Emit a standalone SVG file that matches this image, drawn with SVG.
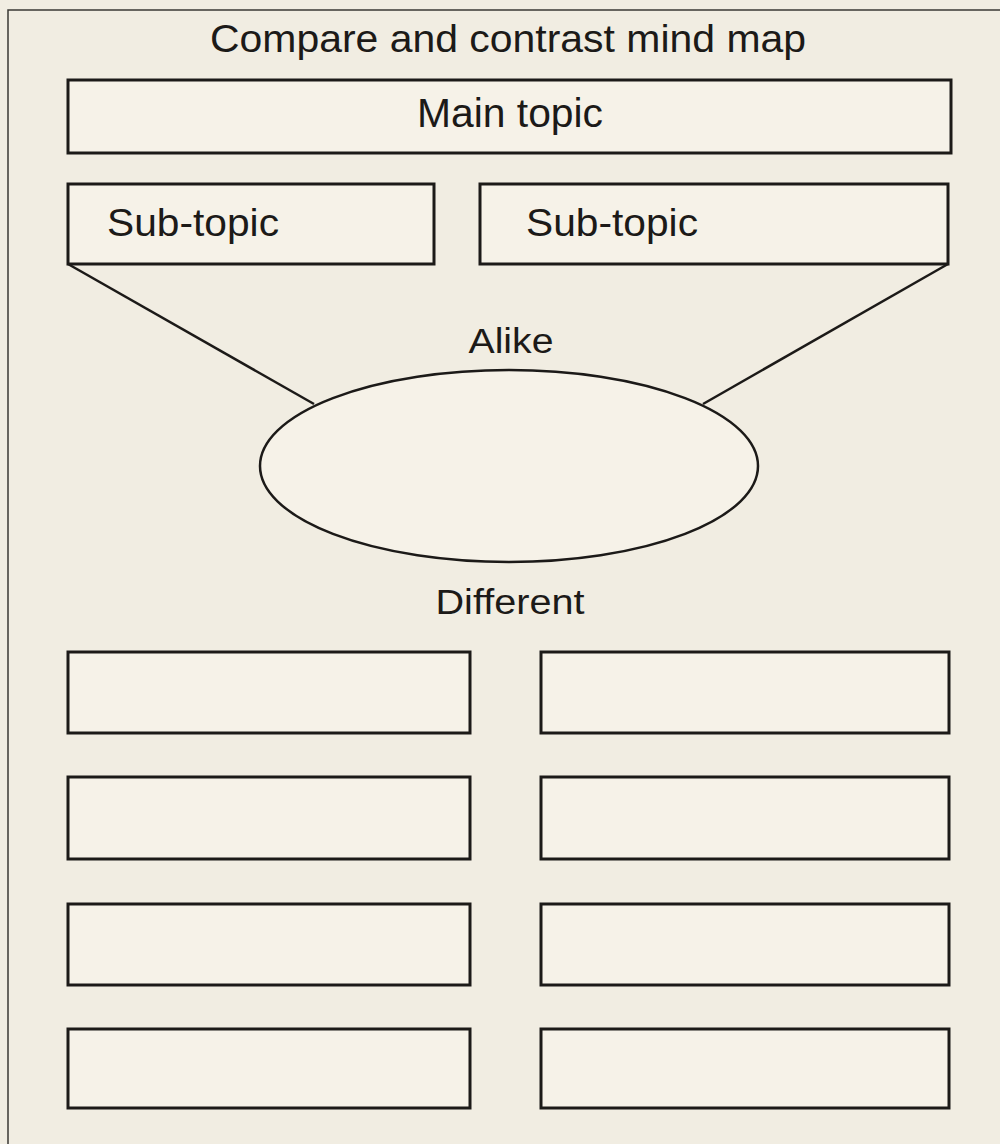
<svg xmlns="http://www.w3.org/2000/svg" width="1000" height="1144" viewBox="0 0 1000 1144">
<style>
.box{fill:#f6f2e8;stroke:#1c1a18;stroke-width:3}
.line{stroke:#1c1a18;stroke-width:2.5;fill:none}
.frame{stroke:#3a3835;stroke-width:1.5;fill:none}
.t{font-family:"Liberation Sans","Arial",sans-serif;fill:#1c1a18;text-anchor:middle}
</style>
<rect width="1000" height="1144" fill="#f1ede2"/>
<path class="frame" d="M8 1144 V10 H1000"/>
<text class="t" x="508" y="52" font-size="38" textLength="596" lengthAdjust="spacingAndGlyphs">Compare and contrast mind map</text>
<g id="connectors">
<line class="line" x1="68" y1="264" x2="314" y2="404"/>
<line class="line" x1="948" y1="264" x2="703" y2="404"/>
</g>
<g id="main-topic">
<rect class="box" x="68" y="80" width="883" height="73"/>
<text class="t" x="510" y="127" font-size="40" textLength="186" lengthAdjust="spacingAndGlyphs">Main topic</text>
</g>
<g id="sub-topic-left">
<rect class="box" x="68" y="184" width="366" height="80"/>
<text class="t" x="193" y="236" font-size="39" textLength="172" lengthAdjust="spacingAndGlyphs">Sub-topic</text>
</g>
<g id="sub-topic-right">
<rect class="box" x="480" y="184" width="468" height="80"/>
<text class="t" x="612" y="236" font-size="39" textLength="172" lengthAdjust="spacingAndGlyphs">Sub-topic</text>
</g>
<g id="alike">
<text class="t" x="511" y="353" font-size="35" textLength="85" lengthAdjust="spacingAndGlyphs">Alike</text>
<ellipse class="box" cx="509" cy="466" rx="249" ry="96" style="stroke-width:2.5"/>
</g>
<g id="different-label">
<text class="t" x="510" y="614" font-size="35" textLength="149" lengthAdjust="spacingAndGlyphs">Different</text>
</g>
<g id="diff-l1"><rect class="box" x="68" y="652" width="402" height="81"/></g>
<g id="diff-r1"><rect class="box" x="541" y="652" width="408" height="81"/></g>
<g id="diff-l2"><rect class="box" x="68" y="777" width="402" height="82"/></g>
<g id="diff-r2"><rect class="box" x="541" y="777" width="408" height="82"/></g>
<g id="diff-l3"><rect class="box" x="68" y="904" width="402" height="81"/></g>
<g id="diff-r3"><rect class="box" x="541" y="904" width="408" height="81"/></g>
<g id="diff-l4"><rect class="box" x="68" y="1029" width="402" height="79"/></g>
<g id="diff-r4"><rect class="box" x="541" y="1029" width="408" height="79"/></g>
</svg>
